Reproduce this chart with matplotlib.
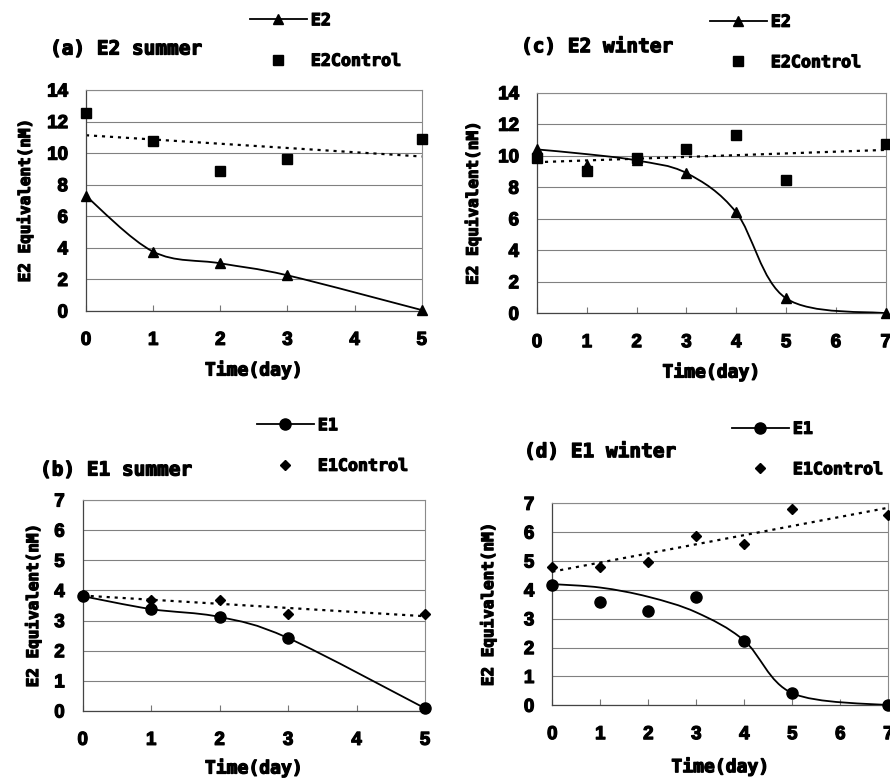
import numpy as np
import matplotlib
matplotlib.use("Agg")
import matplotlib.pyplot as plt
import matplotlib.patheffects as pe
from matplotlib.path import Path
from matplotlib.patches import PathPatch
from matplotlib.lines import Line2D
from matplotlib.text import Text

# ---------------- data ----------------
# (a) E2 summer
days_s = [0, 1, 2, 3, 5]
e2_summer = [7.28, 3.76, 3.02, 2.26, 0.06]
e2_summer_ctrl = [12.52, 10.75, 8.89, 9.65, 10.9]
# (b) E1 summer
e1_summer = [3.81, 3.38, 3.12, 2.42, 0.09]
e1_summer_ctrl = [3.85, 3.68, 3.67, 3.22, 3.22]
# (c) E2 winter
days_w = [0, 1, 2, 3, 4, 5, 7]
e2_winter = [10.4, 9.4, 9.7, 8.9, 6.4, 0.95, 0.0]
e2_winter_line = [10.4, 10.1, 9.7, 8.9, 6.4, 0.95, 0.0]
e2_winter_ctrl = [9.85, 9.0, 9.83, 10.4, 11.3, 8.45, 10.75]
# (d) E1 winter
e1_winter = [4.16, 3.58, 3.28, 3.76, 2.24, 0.42, 0.0]
e1_winter_line = [4.2, 4.08, 3.76, 3.22, 2.24, 0.42, 0.0]
e1_winter_ctrl = [4.78, 4.78, 4.97, 5.87, 5.59, 6.81, 6.58]

titles = ["(a) E2 summer", "(b) E1 summer", "(c) E2 winter", "(d) E1 winter"]
ylabel = "E2 Equivalent(nM)"
xlabel = "Time(day)"

FONT = "DejaVu Sans Mono"
TICKFONT = "Liberation Sans"
W, H = 890, 782
fig = plt.figure(figsize=(W / 100, H / 100), dpi=100)


def px_axes(l, r, t, b):
    return fig.add_axes([l / W, 1 - b / H, (r - l) / W, (b - t) / H])


def smooth_path(x, y):
    x = np.asarray(x, float)
    y = np.asarray(y, float)
    P = np.column_stack([x, y])
    n = len(P)
    verts = [P[0]]
    codes = [Path.MOVETO]
    for i in range(n - 1):
        p0 = P[i - 1] if i > 0 else P[i]
        p3 = P[i + 2] if i + 2 < n else P[i + 1]
        c1 = P[i] + (P[i + 1] - p0) / 6.0
        c2 = P[i + 1] - (p3 - P[i]) / 6.0
        verts += [c1, c2, P[i + 1]]
        codes += [Path.CURVE4] * 3
    return Path(verts, codes)


def style_axes(ax, xmax, ymax, ystep, xlab_off, ylab_off):
    ax.set_xlim(0, xmax)
    ax.set_ylim(0, ymax)
    ax.set_xticks(range(0, xmax + 1))
    ax.set_yticks(np.arange(0, ymax + 0.1, ystep))
    ax.grid(axis="y", color="#808080", linewidth=0.8)
    ax.set_axisbelow(True)
    for s in ["top", "right"]:
        ax.spines[s].set_color("#8a8a8a")
        ax.spines[s].set_linewidth(0.8)
    for s in ["left", "bottom"]:
        ax.spines[s].set_color("#444444")
        ax.spines[s].set_linewidth(0.9)
    ax.tick_params(axis="x", direction="in", length=4, color="#777777",
                   pad=15, labelsize=13.5)
    ax.tick_params(axis="y", length=0, pad=13, labelsize=13.5)
    for lab in ax.get_xticklabels() + ax.get_yticklabels():
        lab.set_fontfamily(TICKFONT)
        lab.set_fontweight("bold")
    ax.set_xlabel(xlabel, fontsize=13, fontfamily=FONT, fontweight="bold")
    ax.set_ylabel(ylabel, fontsize=11.5, fontfamily=FONT, fontweight="bold")
    ax.xaxis.set_label_coords(0.5, xlab_off)
    ax.xaxis.label.set_va("center")
    ax.yaxis.set_label_coords(ylab_off, 0.5)
    ax.yaxis.label.set_va("center")


def draw_panel(ax, days, line_vals, mark_vals, ctrl_vals, marker, ms,
               cmarker, cms):
    pp = PathPatch(smooth_path(days, line_vals), facecolor="none",
                   edgecolor="black", linewidth=1.3, zorder=3)
    ax.add_patch(pp)
    ax.plot(days, mark_vals, linestyle="none", marker=marker, ms=ms,
            color="black", zorder=5, clip_on=False)
    coef = np.polyfit(days, ctrl_vals, 1)
    xr = np.array([0, ax.get_xlim()[1]])
    ax.plot(xr, np.polyval(coef, xr), color="black", linewidth=1.6,
            linestyle=(0, (1.4, 2.2)), zorder=2)
    ax.plot(days, ctrl_vals, linestyle="none", marker=cmarker, ms=cms,
            color="black", zorder=4, clip_on=False)


def legend(lbl1, lbl2, marker, ms, cmarker, cms, x, yc):
    h1 = Line2D([], [], color="black", linewidth=1.3, marker=marker, ms=ms)
    h2 = Line2D([], [], linestyle="none", marker=cmarker, ms=cms,
                color="black")
    fig.legend([h1, h2], [lbl1, lbl2], loc="center left",
               bbox_to_anchor=(x / W, 1 - yc / H), frameon=False,
               borderpad=0, borderaxespad=0, handlelength=3.4,
               handletextpad=0.25, labelspacing=1.35,
               prop={"family": FONT, "weight": "bold", "size": 12})


# (a)
axa = px_axes(86, 421.7, 90, 311)
style_axes(axa, 5, 14, 2, -(370 - 311) / 221, -0.182)
draw_panel(axa, days_s, e2_summer, e2_summer, e2_summer_ctrl, "^", 7.5, "s", 7)
fig.text(50 / W, 1 - 49 / H, titles[0], fontsize=14, fontfamily=FONT,
         fontweight="bold", va="center", ha="left")
legend("E2", "E2Control", "^", 7.5, "s", 7, 250, 40.5)

# (b)
axb = px_axes(82.7, 425, 500, 711)
style_axes(axb, 5, 7, 1, -(768 - 711) / 211, -0.145)
draw_panel(axb, days_s, e1_summer, e1_summer, e1_summer_ctrl, "o", 8, "D", 5)
fig.text(40 / W, 1 - 470 / H, titles[1], fontsize=14, fontfamily=FONT,
         fontweight="bold", va="center", ha="left")
legend("E1", "E1Control", "o", 8, "D", 5, 257, 445.5)

# (c)
axc = px_axes(537, 885.7, 92.7, 313.3)
style_axes(axc, 7, 14, 2, -(372 - 313.3) / 220.6, -0.184)
draw_panel(axc, days_w, e2_winter_line, e2_winter, e2_winter_ctrl, "^", 7.5, "s", 7)
fig.text(521 / W, 1 - 46.7 / H, titles[2], fontsize=14, fontfamily=FONT,
         fontweight="bold", va="center", ha="left")
legend("E2", "E2Control", "^", 7.5, "s", 7, 710, 42)

# (d)
axd = px_axes(552.3, 888.3, 503.3, 705.3)
style_axes(axd, 7, 7, 1, -(766.7 - 705.3) / 202, -0.191)
draw_panel(axd, days_w, e1_winter_line, e1_winter, e1_winter_ctrl, "o", 8, "D", 5)
fig.text(524 / W, 1 - 451.7 / H, titles[3], fontsize=14, fontfamily=FONT,
         fontweight="bold", va="center", ha="left")
legend("E1", "E1Control", "o", 8, "D", 5, 732, 449)

# heavier, scan-like lettering
for t in fig.findobj(Text):
    t.set_path_effects([pe.withStroke(linewidth=0.9, foreground="black")])

fig.savefig("out.png", dpi=100)
